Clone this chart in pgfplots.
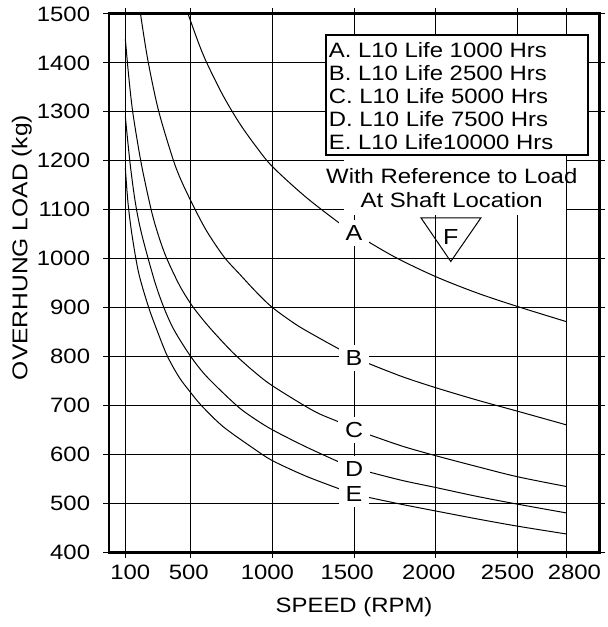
\documentclass[border=0pt]{standalone}
\usepackage{fontspec}
\setmainfont{Liberation Sans}[FakeStretch=1.15]
\usepackage{pgfplots}
\pgfplotsset{compat=1.18}

\newcommand\tfont{\fontsize{10.5}{12.5}\selectfont}

\begin{document}
\begin{tikzpicture}
\begin{axis}[
  scale only axis,
  width=246.65bp, height=270.8bp,
  xmin=0, xmax=3000, ymin=400, ymax=1500,
  xtick={100,500,1000,1500,2000,2500,2800},
  xticklabels={\hspace*{5bp}100, 500\hspace*{2bp}, 1000\hspace*{5bp}, 1500\hspace*{7bp}, 2000\hspace*{7bp}, 2500\hspace*{10bp}, \hspace*{8bp}2800},
  ytick={400,500,...,1500},
  /pgf/number format/1000 sep={},
  /pgf/number format/assume math mode=true,
  tick align=outside,
  major tick length=3bp,
  tick style={black, line width=0.5bp},
  axis line style={line width=1.5bp},
  grid=major,
  grid style={black, line width=0.55bp},
  ticklabel style={font=\tfont},
  yticklabel style={xshift=-3bp},
  clip=false,
]
% white patch behind the note
\fill[white] (axis cs:1441,1211) rectangle (axis cs:2795,1089);

% A. 1000 h
\addplot[black, line width=0.5bp, smooth] coordinates {(484,1500) (550,1439) (600,1399) (700,1332) (800,1276) (900,1229) (1000,1188) (1200,1127) (1400,1075) (1500,1052) (1750,1003) (2000,963) (2250,930) (2500,902) (2800,871)};
% B. 2500 h
\addplot[black, line width=0.5bp, smooth] coordinates {(193,1500) (237,1407) (302,1304) (389,1206) (440,1161) (520,1105) (600,1055) (705,1003) (800,968) (900,932) (1000,900) (1150,864) (1300,835) (1420,813) (1500,799) (1600,784) (1800,758) (2000,736) (2250,711) (2500,688) (2800,660)};
% C. 5000 h
\addplot[black, line width=0.5bp, smooth] coordinates {(100,1449) (120,1375) (146,1298) (197,1195) (258,1100) (300,1050) (350,1003) (432,945) (510,903) (600,865) (700,828) (773,803) (884,770) (1000,740) (1250,689) (1400,667) (1500,652) (1600,639) (1800,616) (2000,597) (2250,575) (2500,554) (2800,534)};
% D. 7500 h
\addplot[black, line width=0.5bp, smooth] coordinates {(100,1290) (130,1192) (162,1113) (200,1050) (278,955) (338,898) (400,853) (500,800) (600,758) (780,700) (884,674) (1000,650) (1200,616) (1410,584) (1500,573) (1600,563) (1800,546) (2000,532) (2250,514) (2500,498) (2800,480)};
% E. 10000 h
\addplot[black, line width=0.5bp, smooth] coordinates {(100,1185) (116,1115) (140,1050) (182,970) (243,900) (300,848) (358,800) (430,757) (500,726) (570,698) (700,656) (884,612) (1000,587) (1200,556) (1420,528) (1500,519) (1600,511) (1800,497) (2000,484) (2250,468) (2500,453) (2800,437)};

% curve labels
\foreach \l/\v in {A/1052,B/797,C/650,D/570,E/518}{
  \edef\tmp{\noexpand\node[fill=white, inner xsep=3.5bp, inner ysep=2.7bp, font=\noexpand\fontsize{11}{13}\noexpand\selectfont] at (axis cs:1500,\v) {\l};}
  \tmp
}

% legend box
\draw[fill=white, line width=1bp] (axis cs:1326,1457) rectangle (axis cs:2931,1212);
\node[anchor=base west, inner sep=0pt, font=\tfont] at (axis cs:1343,1410) {A. L10 Life 1000 Hrs};
\node[anchor=base west, inner sep=0pt, font=\tfont] at (axis cs:1343,1363) {B. L10 Life 2500 Hrs};
\node[anchor=base west, inner sep=0pt, font=\tfont] at (axis cs:1343,1316) {C. L10 Life 5000 Hrs};
\node[anchor=base west, inner sep=0pt, font=\tfont] at (axis cs:1343,1269) {D. L10 Life 7500 Hrs};
\node[anchor=base west, inner sep=0pt, font=\tfont] at (axis cs:1343,1222) {E. L10 Life10000 Hrs};

% note and load symbol
\node[anchor=base, inner sep=0pt, font=\tfont] at (axis cs:2098,1154) {With Reference to Load};
\node[anchor=base, inner sep=0pt, font=\tfont] at (axis cs:2098,1104) {At Shaft Location};
\draw[line width=0.5bp] (axis cs:1910,1083) -- (axis cs:2276,1083) -- (axis cs:2092,994) -- cycle;
\node[font=\fontsize{11}{13}\selectfont] at (axis cs:2092,1044) {F};

% axis titles
\node[rotate=90, font=\fontsize{10.8}{13}\selectfont] at ([xshift=-43.9bp]rel axis cs:0,0.566) {OVERHUNG LOAD (kg)};
\node[font=\tfont] at ([yshift=-27.7bp]rel axis cs:0.5,0) {SPEED (RPM)};

% page frame
\path ([xshift=-54.85bp,yshift=-37.7bp]rel axis cs:0,0) rectangle ([xshift=3bp,yshift=5bp]rel axis cs:1,1);
\end{axis}
\end{tikzpicture}
\end{document}
